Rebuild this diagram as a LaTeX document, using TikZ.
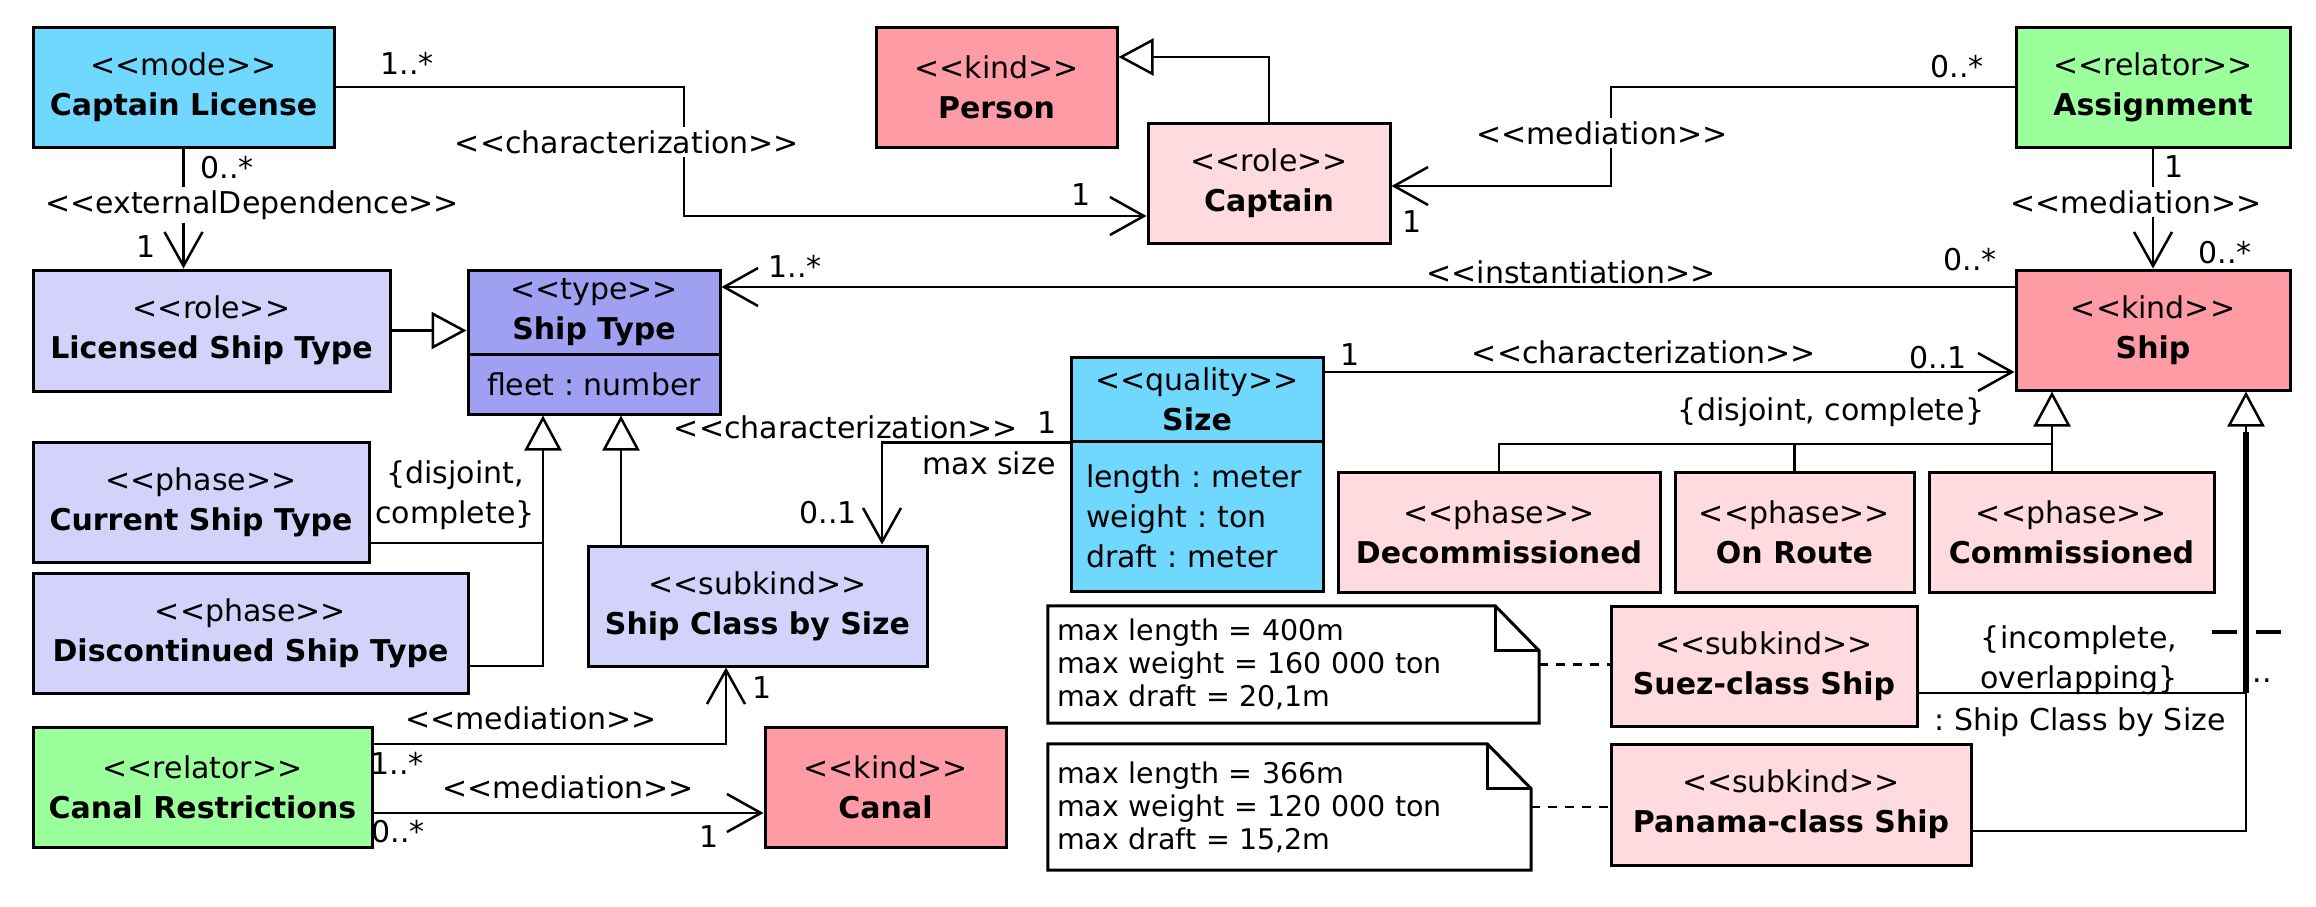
\documentclass[tikz,border=0pt]{standalone}
\usepackage{fontspec}
\setmainfont{DejaVu Sans}[Ligatures=TeXOff]
\usetikzlibrary{arrows.meta}

\definecolor{modecol}{RGB}{112,215,255}
\definecolor{typecol}{RGB}{160,160,242}
\definecolor{lavcol}{RGB}{210,210,250}
\definecolor{kindcol}{RGB}{255,155,165}
\definecolor{pinkcol}{RGB}{255,218,222}
\definecolor{relcol}{RGB}{155,255,155}

\newcommand\stereo[1]{<<#1>>}
\newcommand\umlfont{\fontsize{30}{40}\selectfont}
\newcommand\notefont{\fontsize{28.5}{33}\selectfont}

\tikzset{
  umlbox/.style={draw, line width=3pt, inner sep=0pt, align=center, font=\umlfont},
  conn/.style={line width=2.5pt},
  assoc/.style={conn, -{Straight Barb[length=34pt, width=38pt]}},
  gen/.style={conn, -{Triangle[open, length=35pt, width=37pt]}},
  lbl/.style={inner sep=1pt, font=\umlfont},
  cut/.style={lbl, fill=white, inner sep=3pt},
  notebox/.style={inner xsep=9pt, inner ysep=0pt, align=left, font=\notefont},
}

\begin{document}
\frenchspacing
\begin{tikzpicture}[x=1pt, y=-1pt]
    \path[use as bounding box, fill=white] (0,0) rectangle (2316,906);
    % classes: name/center x/center y/width/height/fill/stereotype/title
    \foreach \nm/\cx/\cy/\w/\h/\fc/\stp/\ttl in {
        lic/183.5/87/301/120/modecol/mode/Captain License,
        person/996.5/87/241/120/kindcol/kind/Person,
        captain/1269/183/242/120/pinkcol/role/Captain,
        assign/2153/87/274/120/relcol/relator/Assignment,
        ship/2153/330/274/120/kindcol/kind/Ship,
        licst/211.5/330.5/357/121/lavcol/role/Licensed Ship Type,
        curst/201/502/336/120/lavcol/phase/Current Ship Type,
        discst/250.5/633/435/120/lavcol/phase/Discontinued Ship Type,
        classsize/757.5/606/339/120/lavcol/subkind/Ship Class by Size,
        decom/1499/532/322/120/pinkcol/phase/Decommissioned,
        onroute/1794.5/532/239/120/pinkcol/phase/On Route,
        commis/2071.5/532/285/120/pinkcol/phase/Commissioned,
        suez/1764/666/306/120/pinkcol/subkind/Suez-class Ship,
        panama/1791/804.5/360/121/pinkcol/subkind/Panama-class Ship,
        canalr/202.5/787/339/120/relcol/relator/Canal Restrictions,
        canal/885.5/787/241/120/kindcol/kind/Canal}{
        \node[umlbox, fill=\fc, minimum width=\w*1pt, minimum height=\h*1pt] (\nm) at (\cx,\cy) {\stereo{\stp}\\\textbf{\ttl}};
    }
    % classes with attributes
    \node[umlbox, fill=typecol, minimum width=252pt, minimum height=84pt] (shiptype) at (594,312) {\stereo{type}\\\textbf{Ship Type}};
    \node[umlbox, fill=typecol, minimum width=252pt, minimum height=60pt] (shiptypeA) at (594,384) {fleet : number};
    \node[umlbox, fill=modecol, minimum width=252pt, minimum height=84pt] (size) at (1197,399) {\stereo{quality}\\\textbf{Size}};
    \node[umlbox, fill=modecol, minimum width=252pt, minimum height=150pt, text width=222pt, align=left] (sizeA) at (1197,516) {length : meter\\weight : ton\\draft : meter};

    % notes
    \node[notebox, text width=473pt, minimum height=117pt] (note1) at (1293.5,664.5) {max length = 400m\\max weight = 160 000 ton\\max draft = 20,1m};
    \node[notebox, text width=465pt, minimum height=126pt] (note2) at (1289.5,807) {max length = 366m\\max weight = 120 000 ton\\max draft = 15,2m};
    \foreach \nt in {note1, note2}{
        \draw[line width=3pt] (\nt.south west) -- (\nt.north west) -- ([xshift=-44pt]\nt.north east) -- ([yshift=-45pt]\nt.north east) -- (\nt.south east) -- cycle;
        \draw[line width=3pt] ([xshift=-44pt]\nt.north east) |- ([yshift=-45pt]\nt.north east);
    }
    \draw[conn, dash pattern=on 9pt off 8pt] (note1.east) -- (note1.east -| suez.west);
    \draw[conn, dash pattern=on 9pt off 8pt] (note2.east) -- (note2.east -| panama.west);

    % junction points
    \coordinate (phtip) at ([xshift=-51pt]shiptypeA.south);
    \coordinate (sctip) at ([xshift=27pt]shiptypeA.south);
    \coordinate (scend) at ([xshift=124.5pt]classsize.north);
    \coordinate (crtip) at ([xshift=-31.5pt]classsize.south);
    \coordinate (crlow) at ([yshift=-26pt]canalr.east);
    \coordinate (instart) at ([yshift=43pt]ship.west);
    \coordinate (szship) at ([yshift=27pt]size.east);
    \coordinate (shtip) at ([xshift=-101pt]ship.south);
    \coordinate (phjoin) at (2052,444);
    \coordinate (sktip) at ([xshift=93pt]ship.south);
    \coordinate (suezj) at ([yshift=-27pt]suez.east);
    \coordinate (gsmark) at (sktip |- 0,632);

    % top row
    \draw[assoc] (lic.east) -| (684,150) |- ([yshift=-33pt]captain.west);
    \node[cut] (charlbl1) at (627,142) {\stereo{characterization}};
    \node[lbl] (m1) at (407,63) {1..*};
    \node[lbl] (m2) at (1081,195) {1};
    \draw[gen] (captain.north) |- ([yshift=30pt]person.east);
    \draw[assoc] (assign.west) -| (1611,150) |- ([yshift=-3pt]captain.east);
    \node[cut] (medlbl1) at (1602,133) {\stereo{mediation}};
    \node[lbl] (m3) at (1957,67) {0..*};
    \node[lbl] (m4) at (1412,222) {1};
    \draw[assoc] (assign.south) -- (ship.north);
    \node[cut] (medlbl2) at (2136,202) {\stereo{mediation}};
    \node[lbl] (m5) at (2174,167) {1};
    \node[lbl] (m6) at (2225,253) {0..*};
    \draw[assoc] (lic.south) -- (lic.south |- licst.north);
    \node[cut] (extlbl) at (252,205) {\stereo{externalDependence}};
    \node[lbl] (m7) at (227,168) {0..*};
    \node[lbl] (m8) at (146,247) {1};

    % ship type
    \draw[assoc] (instart) -- (instart -| shiptype.east);
    \node[lbl] (instlbl) at (1571,272) {\stereo{instantiation}};
    \node[lbl] (m9) at (1970,260) {0..*};
    \node[lbl] (m10) at (795,266) {1..*};
    \draw[gen] (licst.east) -- (licst.east -| shiptype.west);
    \draw[gen] ([yshift=-33pt]discst.east) -| (phtip);
    \draw[conn] ([yshift=-41pt]curst.east) -- ([yshift=-41pt]curst.east -| phtip);
    \node[lbl, align=center] (gs1) at (455,495) {\{disjoint,\\complete\}};
    \draw[gen] (sctip |- classsize.north) -- (sctip);

    % size
    \draw[assoc] (size.south west) -| (scend);
    \node[lbl] (charlbl2) at (846,427) {\stereo{characterization}};
    \node[lbl] (m11) at (1047,423) {1};
    \node[lbl] (maxsize) at (989,463) {max size};
    \node[lbl] (m12) at (828,513) {0..1};
    \draw[assoc] (szship) -- (szship -| ship.west);
    \node[lbl] (m13) at (1350,355) {1};
    \node[lbl] (charlbl3) at (1644,352) {\stereo{characterization}};
    \node[lbl] (m14) at (1938,358) {0..1};

    % phases of ship
    \draw[gen] (commis.north -| shtip) -- (shtip);
    \draw[conn] (decom.north) |- (phjoin);
    \draw[conn] (onroute.north) -- (onroute.north |- phjoin);
    \node[lbl] (gs2) at (1831,412) {\{disjoint, complete\}};

    % subkinds of ship
    \draw[gen] ([yshift=-26.5pt]panama.east) -| (sktip);
    \draw[conn] (suezj) -- (suezj -| sktip);
    \draw[line width=5.5pt] (suezj -| sktip) -- ([yshift=-40pt]sktip);
    \draw[line width=4pt, dash pattern=on 25pt off 19pt] ([xshift=-34pt]gsmark) -- ([xshift=37pt]gsmark);
    \node[lbl, align=center] (gs3) at (2079,660) {\{incomplete,\\overlapping\}};
    \node[lbl] (gs3b) at (2080,722) {: Ship Class by Size};
    \node[lbl] (dots) at (2262,681) {..};

    % canal restrictions
    \draw[assoc] ([yshift=43pt]canalr.east) -| (crtip);
    \node[lbl] (medlbl3) at (531,718) {\stereo{mediation}};
    \node[lbl] (m15) at (762,688) {1};
    \node[lbl] (m16) at (397,763) {1..*};
    \draw[assoc] (crlow) -- (crlow -| canal.west);
    \node[lbl] (medlbl4) at (568,787) {\stereo{mediation}};
    \node[lbl] (m17) at (398,832) {0..*};
    \node[lbl] (m18) at (709,837) {1};
\end{tikzpicture}
\end{document}
